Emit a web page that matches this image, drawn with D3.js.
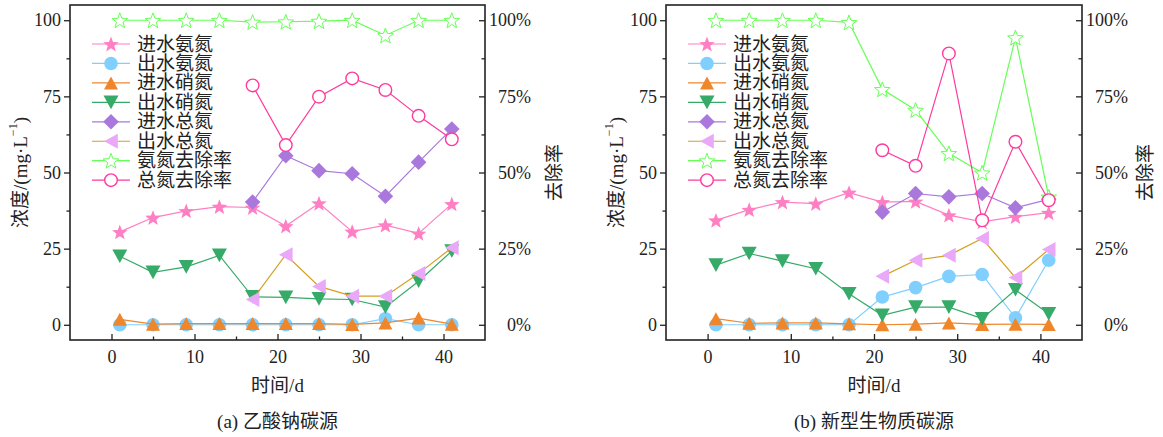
<!DOCTYPE html>
<html>
<head>
<meta charset="utf-8">
<script src="https://cdn.jsdelivr.net/npm/d3@7"></script>
<style>
  body { margin: 0; background: #fff; }
  svg { display: block; }
  text { fill: #222; }
</style>
</head>
<body>
<svg id="chart" width="1163" height="437"></svg>
<script>
// sampling days
const days = [1, 5, 9, 13, 17, 21, 25, 29, 33, 37, 41];
const daysA = [17, 21, 25, 29, 33, 37, 41];
const daysB = [21, 25, 29, 33, 37, 41];

// (a) sodium acetate
const aInNH4 = [30.5, 35.2, 37.4, 38.8, 38.5, 32.4, 39.9, 30.6, 32.7, 30.0, 39.7];
const aOutNH4 = [0, 0, 0, 0, 0, 0, 0, 0, 2.0, 0, 0];
const aInNO3 = [1.8, 0.2, 0.4, 0.4, 0.4, 0.4, 0.4, 0.1, 0.6, 2.2, 0.2];
const aOutNO3 = [22.5, 17.2, 19.0, 22.8, 9.2, 9.0, 8.5, 8.3, 5.8, 14.3, 24.2];
const aInTN = [40.3, 55.5, 50.6, 49.6, 42.2, 53.4, 64.3];
const aOutTN = [8.3, 23.0, 12.6, 9.4, 9.4, 16.8, 25.3];
const aNH4Rem = [100, 100, 100, 100, 99.4, 99.5, 99.7, 100, 95.0, 100, 100];
const aTNRem = [78.6, 59.0, 74.9, 80.9, 77.1, 68.6, 60.9];

// (b) new biomass carbon source
const bInNH4 = [34.3, 37.8, 40.3, 39.8, 43.4, 40.3, 40.5, 36.0, 33.8, 35.5, 36.8];
const bOutNH4 = [0, 0, 0, 0, 0, 9.1, 12.2, 15.9, 16.5, 2.3, 21.2];
const bInNO3 = [2.0, 0.5, 0.6, 0.6, 0.3, 0, 0.2, 0.6, 0.1, 0.2, 0.1];
const bOutNO3 = [19.6, 23.4, 20.9, 18.4, 10.2, 3.1, 5.8, 5.8, 2.0, 11.5, 3.6];
const bInTN = [37.0, 43.1, 42.0, 43.1, 38.4, 41.2];
const bOutTN = [15.9, 21.2, 22.8, 28.3, 15.5, 24.7];
const bNH4Rem = [100, 100, 100, 100, 99.3, 77.3, 70.5, 56.3, 49.9, 94.3, 42.0];
const bTNRem = [57.3, 52.2, 89.1, 34.3, 60.1, 40.9];

const seriesNames = ["进水氨氮", "出水氨氮", "进水硝氮", "出水硝氮", "进水总氮", "出水总氮", "氨氮去除率", "总氮去除率"];
const xTicks = [0, 10, 20, 30, 40];
const yTicks = [0, 25, 50, 75, 100];
const subtitles = ["(a) 乙酸钠碳源", "(b) 新型生物质碳源"];

// marker + line style per series (same order as names)
const styles = [
  { marker: "star", fill: "#ff7fc4", stroke: "none", line: "#ff7fc4" },
  { marker: "circle", fill: "#80cfff", stroke: "none", line: "#80cfff" },
  { marker: "triUp", fill: "#f0862a", stroke: "none", line: "#f0862a" },
  { marker: "triDown", fill: "#36aa68", stroke: "none", line: "#36aa68" },
  { marker: "diamond", fill: "#aa78dc", stroke: "none", line: "#aa78dc" },
  { marker: "triLeft", fill: "#e9a8f8", stroke: "none", line: "#d4a020" },
  { marker: "star", fill: "#fff", stroke: "#66ff55", line: "#66ff55" },
  { marker: "circle", fill: "#fff", stroke: "#ff3a9e", line: "#ff3a9e" }
];

const panels = [
  {
    left: 70, right: 485, rightTitleOff: 69,
    series: [
      [days, aInNH4], [days, aOutNH4], [days, aInNO3], [days, aOutNO3],
      [daysA, aInTN], [daysA, aOutTN], [days, aNH4Rem], [daysA, aTNRem]
    ]
  },
  {
    left: 666, right: 1082, rightTitleOff: 63,
    series: [
      [days, bInNH4], [days, bOutNH4], [days, bInNO3], [days, bOutNO3],
      [daysB, bInTN], [daysB, bOutTN], [days, bNH4Rem], [daysB, bTNRem]
    ]
  }
];

const plotTop = 5, plotBottom = 340;
const latin = "'Liberation Serif', 'Times New Roman', serif";
const cjk = "'Liberation Serif', 'Noto Sans CJK SC', serif";

function markerPath(type) {
  if (type === "star") {
    const R = 8.2, r = R * 0.42;
    const pts = [];
    for (let i = 0; i < 10; i++) {
      const a = -Math.PI / 2 + i * Math.PI / 5;
      const rr = i % 2 === 0 ? R : r;
      pts.push([rr * Math.cos(a), rr * Math.sin(a) + 0.8]);
    }
    return "M" + pts.join("L") + "Z";
  }
  if (type === "triUp") return "M0,-6.5L7,6.5L-7,6.5Z";
  if (type === "triDown") return "M0,6.8L7.5,-6.8L-7.5,-6.8Z";
  if (type === "triLeft") return "M-6.8,0L6.8,-7.5L6.8,7.5Z";
  if (type === "diamond") return "M0,-7.8L7.8,0L0,7.8L-7.8,0Z";
  return null;
}

function drawMarker(g, type, st, cx, cy) {
  if (type === "circle") {
    g.append("circle")
      .attr("cx", cx).attr("cy", cy)
      .attr("r", st.stroke === "none" ? 6.8 : 6.3)
      .attr("fill", st.fill)
      .attr("stroke", st.stroke)
      .attr("stroke-width", 1.4);
  } else {
    g.append("path")
      .attr("d", markerPath(type))
      .attr("transform", `translate(${cx},${cy})`)
      .attr("fill", st.fill)
      .attr("stroke", st.stroke)
      .attr("stroke-width", 1)
      .attr("stroke-linejoin", "miter");
  }
}

const svg = d3.select("#chart");

panels.forEach(function (p, pi) {
  const x = d3.scaleLinear().domain([-5, 45]).range([p.left, p.right]);
  const y = d3.scaleLinear().domain([-5, 105]).range([plotBottom, plotTop]);
  const g = svg.append("g");

  // series: line then markers
  p.series.forEach(function (s, si) {
    const st = styles[si];
    const pts = s[0].map(function (d, i) { return [d, s[1][i]]; });
    const line = d3.line().x(function (d) { return x(d[0]); }).y(function (d) { return y(d[1]); });
    g.append("path")
      .attr("d", line(pts))
      .attr("fill", "none")
      .attr("stroke", st.line)
      .attr("stroke-width", 1.2);
    pts.forEach(function (d) {
      drawMarker(g, st.marker, st, x(d[0]), y(d[1]));
    });
  });

  // legend
  seriesNames.forEach(function (name, i) {
    const st = styles[i];
    const ly = 44 + i * 19.45;
    g.append("line")
      .attr("x1", p.left + 22).attr("x2", p.left + 60)
      .attr("y1", ly).attr("y2", ly)
      .attr("stroke", st.line).attr("stroke-width", 1.2);
    drawMarker(g, st.marker, st, p.left + 41, ly);
    g.append("text")
      .attr("x", p.left + 67).attr("y", ly)
      .attr("dominant-baseline", "central")
      .style("font-family", cjk).style("font-size", "19px")
      .text(name);
  });

  // axes
  const xAxis = g.append("g")
    .attr("transform", `translate(0,${plotBottom})`)
    .call(d3.axisBottom(x).tickValues(xTicks).tickSize(-6).tickPadding(9));
  xAxis.selectAll("text").attr("y", 17).attr("dy", "0.35em");

  g.append("g")
    .attr("transform", `translate(0,${plotBottom})`)
    .call(d3.axisBottom(x).tickValues([5, 15, 25, 35]).tickSize(-3.5).tickFormat(""));

  g.append("g")
    .attr("transform", `translate(${p.left},0)`)
    .call(d3.axisLeft(y).tickValues(yTicks).tickSize(6).tickPadding(3));

  g.append("g")
    .attr("transform", `translate(${p.left},0)`)
    .call(d3.axisLeft(y).tickValues([12.5, 37.5, 62.5, 87.5]).tickSize(3.5).tickFormat(""));

  const yr = g.append("g")
    .attr("transform", `translate(${p.right},0)`)
    .call(d3.axisRight(y).tickValues(yTicks).tickSize(-6).tickFormat(function (d) { return d + "%"; }));
  yr.selectAll("text").attr("x", 46).attr("text-anchor", "end");

  g.append("g")
    .attr("transform", `translate(${p.right},0)`)
    .call(d3.axisRight(y).tickValues([12.5, 37.5, 62.5, 87.5]).tickSize(-3.5).tickFormat(""));

  g.selectAll(".domain").remove();
  g.selectAll(".tick line").attr("stroke", "#222").attr("stroke-width", 1.3);
  g.selectAll(".tick text")
    .style("font-family", latin).style("font-size", "18px").attr("fill", "#222");

  // frame
  g.append("rect")
    .attr("x", p.left).attr("y", plotTop)
    .attr("width", p.right - p.left).attr("height", plotBottom - plotTop)
    .attr("fill", "none").attr("stroke", "#222").attr("stroke-width", 1.6);

  // titles
  const cx = (p.left + p.right) / 2;
  const cy = (plotTop + plotBottom) / 2;
  const yt = g.append("text")
    .attr("transform", `translate(${p.left - 50},${cy}) rotate(-90)`)
    .attr("text-anchor", "middle")
    .attr("dominant-baseline", "central")
    .style("font-family", cjk).style("font-size", "19px");
  yt.append("tspan").text("浓度/(mg·L");
  yt.append("tspan").attr("dy", -7).style("font-size", "12px").text("−1");
  yt.append("tspan").attr("dy", 7).text(")");

  g.append("text")
    .attr("transform", `translate(${p.right + p.rightTitleOff},${cy}) rotate(-90)`)
    .attr("text-anchor", "middle")
    .attr("dominant-baseline", "central")
    .style("font-family", cjk).style("font-size", "19px")
    .text("去除率");

  g.append("text")
    .attr("x", cx).attr("y", 385)
    .attr("text-anchor", "middle")
    .attr("dominant-baseline", "central")
    .style("font-family", cjk).style("font-size", "19px")
    .text("时间/d");

  g.append("text")
    .attr("x", cx).attr("y", 421)
    .attr("text-anchor", "middle")
    .attr("dominant-baseline", "central")
    .style("font-family", cjk).style("font-size", "19px")
    .text(subtitles[pi]);
});
</script>
</body>
</html>
